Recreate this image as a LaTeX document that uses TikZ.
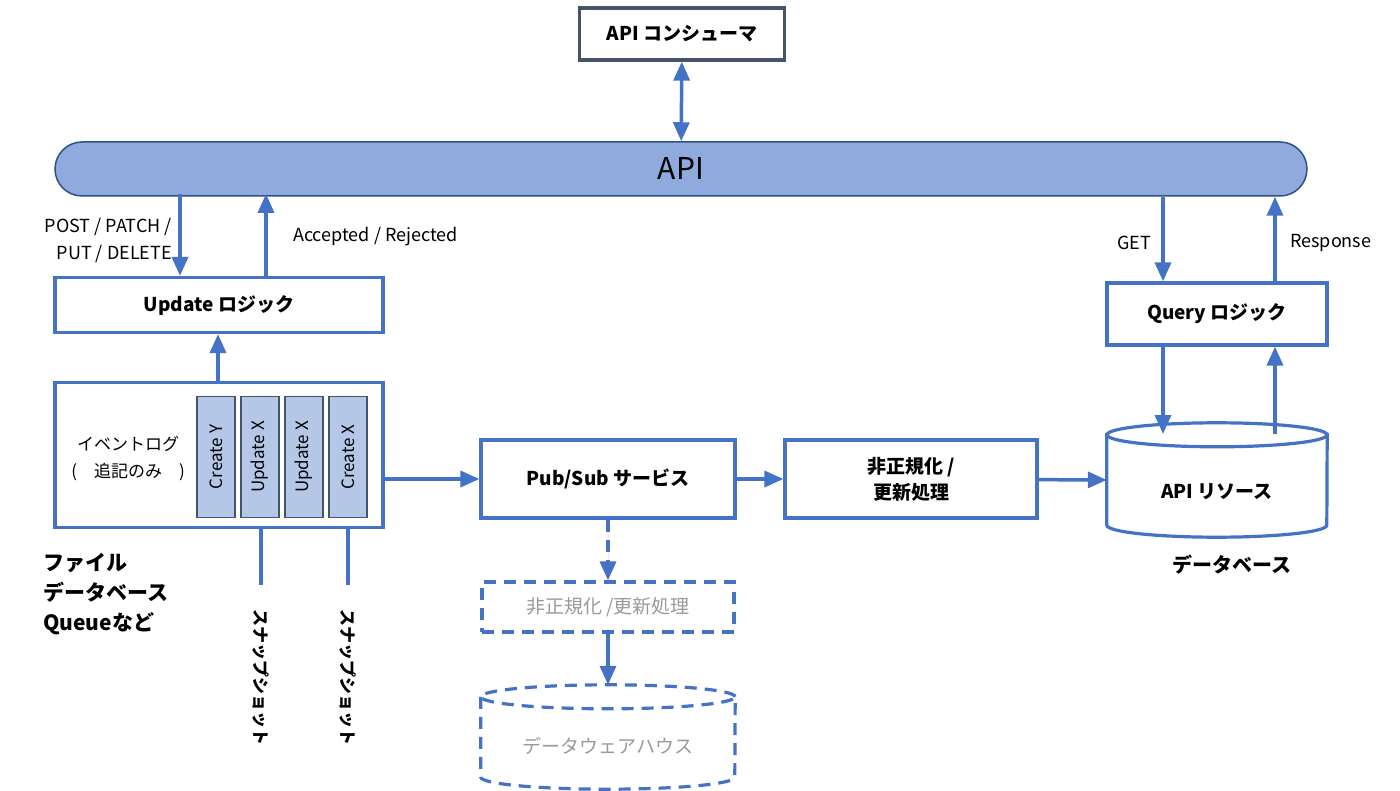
\documentclass[tikz,border=0pt]{standalone}
\usepackage{fontspec}
\setmainfont{Noto Sans CJK JP}
\usetikzlibrary{arrows.meta, positioning, calc}
\definecolor{lineblue}{HTML}{4472C4}
\definecolor{barfill}{HTML}{8FAADC}
\definecolor{cellfill}{HTML}{B4C7E7}
\definecolor{darkbox}{HTML}{44546A}
\tikzset{
  box/.style={rectangle, draw=lineblue, line width=3.2pt, fill=white, align=center, font=\fontsize{19}{26}\selectfont\bfseries},
  cell/.style={rectangle, draw=darkbox, line width=1.2pt, fill=cellfill, minimum width=38pt, minimum height=121pt, inner sep=0pt},
  arrow/.style={-{Triangle[length=19pt,width=16pt]}, draw=lineblue, fill=lineblue, line width=3.5pt},
  stub/.style={draw=lineblue, line width=3.2pt},
  lbl/.style={font=\fontsize{18}{27}\selectfont, align=left, inner sep=0pt}
}
\begin{document}
\begin{tikzpicture}[x=1pt, y=-1pt]
\useasboundingbox (0,0) rectangle (1400,791);

% top
\node[box, draw=darkbox, minimum width=205pt, minimum height=52pt] (cons) at (682,34) {API コンシューマ};
\node[rectangle, rounded corners=27pt, draw=lineblue!70!black, line width=1.5pt, fill=barfill,
  minimum width=1252pt, minimum height=54pt, font=\fontsize{30}{34}\selectfont] (api) at (681,169) {API};
\draw[arrow, {Triangle[length=19pt,width=16pt]}-{Triangle[length=19pt,width=16pt]}] (cons) -- (api);

% update side
\node[box, minimum width=328pt, minimum height=55pt] (upd) at (219,305) {Update ロジック};
\node[box, minimum width=328pt, minimum height=145pt] (log) at (219,455) {};
\node[lbl, font=\fontsize{17}{27}\selectfont, align=center] (logtxt) at (128,459) {イベントログ\\(\quad 追記のみ\quad )};
\foreach \x/\t in {216/Create Y, 260/Update X, 304/Update X, 348/Create X}
  \node[cell] (c\x) at (\x,457) {\rotatebox{90}{\fontsize{17}{20}\selectfont \t}};
\draw[arrow] (upd.north -| 180,0) ++(0,-82) coordinate (postA) -- (postA |- upd.north);
\draw[arrow] (upd.north -| 266,0) -- ++(0,-82) coordinate (accA);
\draw[arrow] (log.north -| 218,0) -- (upd.south -| 218,0);
\node[lbl, align=right, anchor=east] (post) at (172,240) {POST / PATCH /\\PUT / DELETE};
\node[lbl, anchor=west] (acc) at (293,237) {Accepted / Rejected};
\node[lbl, font=\fontsize{21}{30}\selectfont\bfseries, anchor=north west] (src) at (43,553) {ファイル\\データベース\\Queueなど};

% snapshots
\coordinate (s1) at (261,585);
\coordinate (s2) at (348,585);
\draw[stub] (log.south -| s1) -- (s1);
\draw[stub] (log.south -| s2) -- (s2);
\node[font=\fontsize{17}{20}\selectfont\bfseries, rotate=-90] (snap1) at (261,677) {スナップショット};
\node[font=\fontsize{17}{20}\selectfont\bfseries, rotate=-90] (snap2) at (348,677) {スナップショット};

% pipeline
\node[box, minimum width=254pt, minimum height=78pt] (pub) at (608,479) {Pub/Sub サービス};
\node[box, minimum width=252pt, minimum height=78pt] (denorm) at (911,479) {非正規化 /\\更新処理};
\node[minimum width=220pt, minimum height=90pt] (db) at (1217,480) {};
\draw[stub, fill=white] (db.north west) -- (db.south west) arc[x radius=110pt, y radius=12pt, start angle=180, end angle=360]
  -- (db.north east) -- cycle;
\draw[stub, fill=white] (db.north) ellipse[x radius=110pt, y radius=12pt];
\node[font=\fontsize{19}{24}\selectfont\bfseries] (dbtxt) at (1217,492) {API リソース};
\draw[arrow] (log.east |- pub) -- (pub.west);
\draw[arrow] (pub) -- (denorm);
\draw[arrow] (denorm) -- (db.west);
\node[font=\fontsize{20}{24}\selectfont\bfseries] (dblbl) at (1232,565) {データベース};

% query side
\node[box, minimum width=220pt, minimum height=62pt] (qry) at (1217,314) {Query ロジック};
\draw[arrow] (api.south -| 1163,0) -- (qry.north -| 1163,0);
\draw[arrow] (qry.north -| 1275,0) -- (api.south -| 1275,0);
\draw[arrow] (qry.south -| 1163,0) -- (1163,434);
\draw[arrow] (1275,434) -- (qry.south -| 1275,0);
\node[lbl, anchor=west] (get) at (1117,243) {GET};
\node[lbl, anchor=west] (resp) at (1290,243) {Response};

% warehouse (dashed)
\node[box, dashed, dash pattern=on 12pt off 8pt, minimum width=252pt, minimum height=50pt,
  font=\fontsize{19}{24}\selectfont, text=gray!80] (dn2) at (608,607) {非正規化 /更新処理};
\draw[arrow, dashed, dash pattern=on 12pt off 8pt] (pub.south -| dn2) -- (dn2.north);
\node[minimum width=254pt, minimum height=80pt] (dwh) at (608,737) {};
\draw[stub, dashed, dash pattern=on 12pt off 8pt] (dwh.north west) -- (dwh.south west) arc[x radius=127pt, y radius=12pt, start angle=180, end angle=360]
  -- (dwh.north east);
\draw[stub, dashed, dash pattern=on 12pt off 8pt] (dwh.north) ellipse[x radius=127pt, y radius=12pt];
\node[font=\fontsize{19}{24}\selectfont, text=gray!80] (dwhtxt) at (608,746) {データウェアハウス};
\draw[arrow] (dn2.south) -- ([yshift=12pt]dwh.north);
\end{tikzpicture}
\end{document}
